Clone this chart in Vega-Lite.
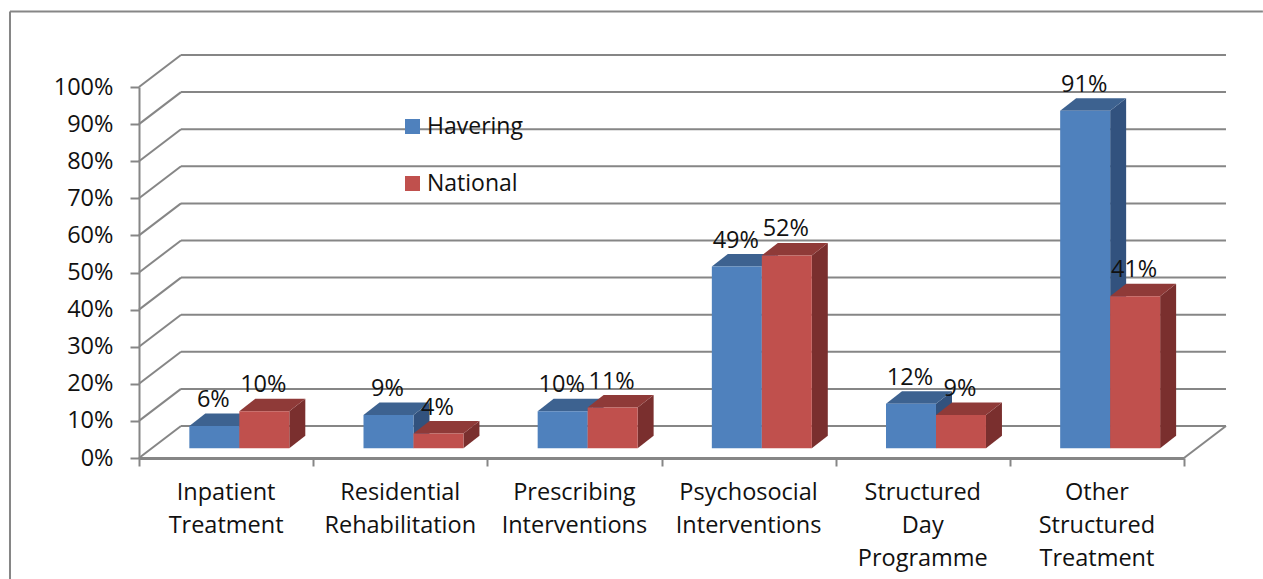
{
"$schema":"https://vega.github.io/schema/vega-lite/v6.json",
"width":1045,"height":371,
"autosize":{"type":"none"},
"padding":{"left":139,"top":87,"right":79,"bottom":121},
"background":"white",
"config":{"view":{"stroke":null},"font":"Open Sans","axis":{"labelOverlap":false,"labelBound":false,"labelFlush":false,"labelSeparation":0},"text":{"font":"Open Sans","fontSize":23.5,"fill":"#111111"}},
"datasets":{
"levels":[{"level":0},{"level":0.1},{"level":0.2},{"level":0.3},{"level":0.4},{"level":0.5},{"level":0.6},{"level":0.7},{"level":0.8},{"level":0.9},{"level":1}],
"bars":[
{"category":"Inpatient Treatment","series":"Havering","value":0.06},
{"category":"Inpatient Treatment","series":"National","value":0.10},
{"category":"Residential Rehabilitation","series":"Havering","value":0.09},
{"category":"Residential Rehabilitation","series":"National","value":0.04},
{"category":"Prescribing Interventions","series":"Havering","value":0.10},
{"category":"Prescribing Interventions","series":"National","value":0.11},
{"category":"Psychosocial Interventions","series":"Havering","value":0.49},
{"category":"Psychosocial Interventions","series":"National","value":0.52},
{"category":"Structured Day Programme","series":"Havering","value":0.12},
{"category":"Structured Day Programme","series":"National","value":0.09},
{"category":"Other Structured Treatment","series":"Havering","value":0.91},
{"category":"Other Structured Treatment","series":"National","value":0.41}
]},
"layer":[
{"data":{"values":[{"frame":"top"}]},"mark":{"type":"rule","stroke":"#868686","strokeWidth":2},
 "encoding":{
 "x":{"datum":-0.7407,"type":"quantitative","scale":{"domain":[0,6],"nice":false,"zero":false},
  "axis":{"title":null,"values":[0,1,2,3,4,5,6],"labels":false,"grid":false,"tickSize":8,"tickColor":"#868686","tickWidth":2,"domainColor":"#868686","domainWidth":3}},
 "x2":{"datum":6.453},
 "y":{"datum":1.2035,"type":"quantitative","scale":{"domain":[0,1],"nice":false,"zero":false},
  "axis":{"title":null,"values":[0,0.1,0.2,0.3,0.4,0.5,0.6,0.7,0.8,0.9,1],"tickCount":11,"format":".0%","grid":false,"tickSize":9,"tickColor":"#868686","tickWidth":2,"domainColor":"#868686","domainWidth":2,"labelFont":"Open Sans","labelFontSize":23.5,"labelColor":"#111111","labelPadding":17,"labelOverlap":false}}
 }},
{"data":{"values":[{"frame":"left"}]},"mark":{"type":"rule","stroke":"#868686","strokeWidth":2},
 "encoding":{
 "x":{"datum":-0.7407,"type":"quantitative","scale":{"domain":[0,6],"nice":false,"zero":false},"axis":{"title":null}},
 "y":{"datum":1.2035,"type":"quantitative","scale":{"domain":[0,1],"nice":false,"zero":false},"axis":{"title":null}},
 "y2":{"datum":-0.326}
 }},
{"data":{"name":"levels"},"transform":[{"calculate":"datum.level+0.0863","as":"back"}],
 "layer":[
 {"mark":{"type":"rule","stroke":"#868686","strokeWidth":2},
  "encoding":{
  "x":{"datum":0,"type":"quantitative","scale":{"domain":[0,6],"nice":false,"zero":false},"axis":{"title":null}},
  "x2":{"datum":0.2411},
  "y":{"field":"level","type":"quantitative","scale":{"domain":[0,1],"nice":false,"zero":false},"axis":{"title":null}},
  "y2":{"field":"back"}}},
 {"mark":{"type":"rule","stroke":"#868686","strokeWidth":2},
  "encoding":{
  "x":{"datum":0.2411,"type":"quantitative","scale":{"domain":[0,6],"nice":false,"zero":false},"axis":{"title":null}},
  "x2":{"datum":6.2411},
  "y":{"field":"back","type":"quantitative","scale":{"domain":[0,1],"nice":false,"zero":false},"axis":{"title":null}}}},
 {"transform":[{"filter":"datum.level==0"}],"mark":{"type":"rule","stroke":"#868686","strokeWidth":2},
  "encoding":{
  "x":{"datum":6,"type":"quantitative","scale":{"domain":[0,6],"nice":false,"zero":false},"axis":{"title":null}},
  "x2":{"datum":6.2411},
  "y":{"field":"level","type":"quantitative","scale":{"domain":[0,1],"nice":false,"zero":false},"axis":{"title":null}},
  "y2":{"field":"back"}}}
 ]},
{"data":{"name":"bars"},
 "transform":[
 {"calculate":"indexof(['Inpatient Treatment','Residential Rehabilitation','Prescribing Interventions','Psychosocial Interventions','Structured Day Programme','Other Structured Treatment'],datum.category)","as":"idx"},
 {"calculate":"datum.idx+0.289+(datum.series=='National'?0.287:0)","as":"left"},
 {"calculate":"datum.left+0.287","as":"right"},
 {"calculate":"datum.value+0.026","as":"top"},
 {"calculate":"[0,1]","as":"t"},
 {"flatten":["t"]},
 {"calculate":"datum.left+datum.t*0.0918","as":"tl"},
 {"calculate":"datum.right+datum.t*0.0918","as":"tr"},
 {"calculate":"0.026+datum.t*0.0337","as":"sb"},
 {"calculate":"datum.top+datum.t*0.0337","as":"st"},
 {"calculate":"datum.idx+0.5","as":"mid"},
 {"calculate":"(datum.left+datum.right)/2","as":"cx"}
 ],
 "layer":[
 {"transform":[{"filter":"datum.series=='Havering'"}],"mark":{"type":"area","fill":"#32527E","orient":"vertical","line":false},
  "encoding":{"x":{"field":"tr","type":"quantitative","scale":{"domain":[0,6],"nice":false,"zero":false},"axis":{"title":null}},
  "y":{"field":"st","type":"quantitative","scale":{"domain":[0,1],"nice":false,"zero":false},"axis":{"title":null}},
  "y2":{"field":"sb"},"detail":{"field":"category"}}},
 {"transform":[{"filter":"datum.series=='Havering'"}],"mark":{"type":"area","fill":"#3D6290","orient":"horizontal"},
  "encoding":{"x":{"field":"tl","type":"quantitative","scale":{"domain":[0,6],"nice":false,"zero":false},"axis":{"title":null}},
  "x2":{"field":"tr"},
  "y":{"field":"st","type":"quantitative","scale":{"domain":[0,1],"nice":false,"zero":false},"axis":{"title":null}},
  "detail":{"field":"category"}}},
 {"transform":[{"filter":"datum.series=='Havering' && datum.t==0"}],"mark":{"type":"bar"},
  "encoding":{"x":{"field":"left","type":"quantitative","scale":{"domain":[0,6],"nice":false,"zero":false},"axis":{"title":null}},
  "x2":{"field":"right"},
  "y":{"field":"top","type":"quantitative","scale":{"domain":[0,1],"nice":false,"zero":false},"axis":{"title":null}},
  "y2":{"field":"sb"},
  "color":{"field":"series","type":"nominal","scale":{"domain":["Havering","National"],"range":["#4F81BD","#C0504D"]},
   "legend":{"title":null,"orient":"none","legendX":262,"legendY":28,"symbolType":"square","symbolSize":225,"symbolStrokeWidth":0,"labelFont":"Open Sans","labelFontSize":23,"labelColor":"#111111","rowPadding":33,"labelOffset":3,"padding":0}}}},
 {"transform":[{"filter":"datum.series=='National'"}],"mark":{"type":"area","fill":"#7A2F2E","orient":"vertical"},
  "encoding":{"x":{"field":"tr","type":"quantitative","scale":{"domain":[0,6],"nice":false,"zero":false},"axis":{"title":null}},
  "y":{"field":"st","type":"quantitative","scale":{"domain":[0,1],"nice":false,"zero":false},"axis":{"title":null}},
  "y2":{"field":"sb"},"detail":{"field":"category"}}},
 {"transform":[{"filter":"datum.series=='National'"}],"mark":{"type":"area","fill":"#8F3A38","orient":"horizontal"},
  "encoding":{"x":{"field":"tl","type":"quantitative","scale":{"domain":[0,6],"nice":false,"zero":false},"axis":{"title":null}},
  "x2":{"field":"tr"},
  "y":{"field":"st","type":"quantitative","scale":{"domain":[0,1],"nice":false,"zero":false},"axis":{"title":null}},
  "detail":{"field":"category"}}},
 {"transform":[{"filter":"datum.series=='National' && datum.t==0"}],"mark":{"type":"bar"},
  "encoding":{"x":{"field":"left","type":"quantitative","scale":{"domain":[0,6],"nice":false,"zero":false},"axis":{"title":null}},
  "x2":{"field":"right"},
  "y":{"field":"top","type":"quantitative","scale":{"domain":[0,1],"nice":false,"zero":false},"axis":{"title":null}},
  "y2":{"field":"sb"},
  "color":{"field":"series","type":"nominal","scale":{"domain":["Havering","National"],"range":["#4F81BD","#C0504D"]},
   "legend":{"title":null,"orient":"none","legendX":262,"legendY":28,"symbolType":"square","symbolSize":225,"symbolStrokeWidth":0,"labelFont":"Open Sans","labelFontSize":23,"labelColor":"#111111","rowPadding":33,"labelOffset":3,"padding":0}}}},
 {"transform":[{"filter":"datum.t==0"}],"mark":{"type":"text","baseline":"middle","align":"center","yOffset":-26,"xOffset":-1},
  "encoding":{"x":{"field":"cx","type":"quantitative","scale":{"domain":[0,6],"nice":false,"zero":false},"axis":{"title":null}},
  "y":{"field":"top","type":"quantitative","scale":{"domain":[0,1],"nice":false,"zero":false},"axis":{"title":null}},
  "text":{"field":"value","type":"quantitative","format":".0%"}}},
 {"transform":[{"filter":"datum.t==0 && datum.series=='Havering'"}],"mark":{"type":"text","baseline":"alphabetic","align":"center","lineBreak":" ","lineHeight":33,"yOffset":42},
  "encoding":{"x":{"field":"mid","type":"quantitative","scale":{"domain":[0,6],"nice":false,"zero":false},"axis":{"title":null}},
  "y":{"datum":0,"type":"quantitative","scale":{"domain":[0,1],"nice":false,"zero":false},"axis":{"title":null}},
  "text":{"field":"category","type":"nominal"}}}
 ]}
]
}
